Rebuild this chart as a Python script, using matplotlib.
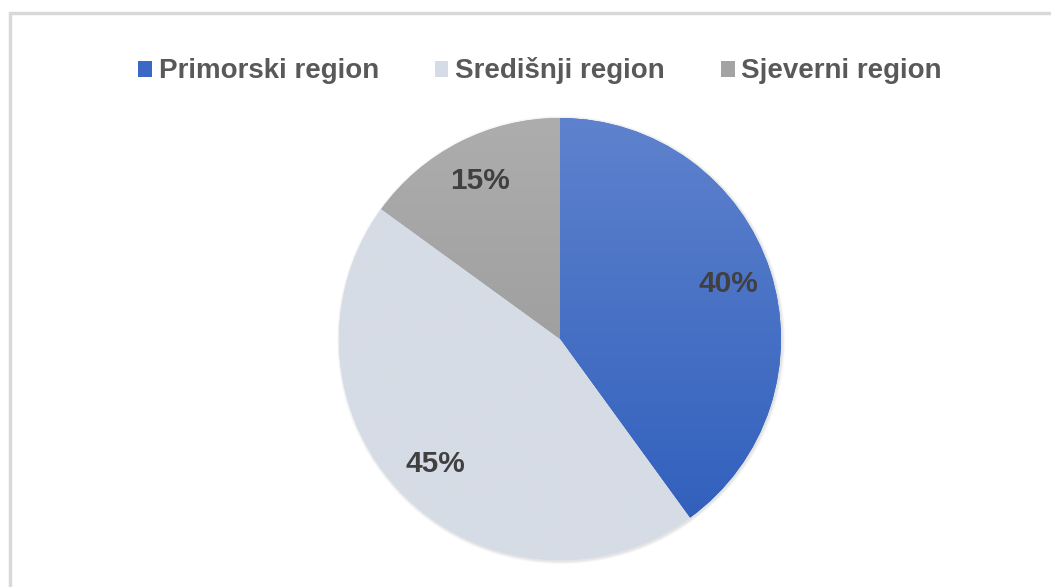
import numpy as np
import matplotlib
matplotlib.use("Agg")
import matplotlib.pyplot as plt
from matplotlib.patches import Patch, Circle
from matplotlib.colors import LinearSegmentedColormap

categories = ["Primorski region", "Središnji region", "Sjeverni region"]
values = [40, 45, 15]
labels = ["40%", "45%", "15%"]

top_colors = ["#5e82cd", "#d6dce5", "#adadad"]
bottom_colors = ["#2d5dbb", "#d6dce5", "#939393"]
legend_colors = ["#3a68c4", "#d6dce5", "#a3a3a3"]

W, H = 1051, 587
fig = plt.figure(figsize=(W / 100, H / 100), dpi=100)
ax = fig.add_axes([0, 0, 1, 1])
ax.set_xlim(0, W)
ax.set_ylim(0, H)
ax.set_aspect("equal")
ax.axis("off")

cx, cy, r = 560, H - 339, 221

# soft shadow
for k, a in [(3, 0.05), (2, 0.07), (1, 0.09)]:
    ax.add_patch(Circle((cx + 1, cy - 1), r + k, color="#808080", alpha=a, lw=0, zorder=1))

wedges, _ = ax.pie(values, startangle=90, counterclock=False, center=(cx, cy), radius=r,
                   colors=legend_colors, wedgeprops=dict(linewidth=0), frame=True)
ax.set_xlim(0, W)
ax.set_ylim(0, H)
ax.axis("off")

for w, c0, c1 in zip(wedges, top_colors, bottom_colors):
    w.set_zorder(2)
    cmap = LinearSegmentedColormap.from_list("g", [c1, c0])
    grad = np.linspace(0, 1, 256).reshape(-1, 1)
    im = ax.imshow(grad, cmap=cmap, extent=(cx - r, cx + r, cy - r, cy + r),
                   origin="lower", aspect="auto", zorder=3)
    im.set_clip_path(w)

for w, lab in zip(wedges, labels):
    ang = np.deg2rad((w.theta1 + w.theta2) / 2)
    d = 0.8 * r
    x = cx + d * np.cos(ang)
    y = cy + d * np.sin(ang)
    ax.text(x, y, lab, ha="center", va="center", fontsize=21.5, fontweight="bold",
            color="#404040", family="Liberation Sans", zorder=5)

# chart frame (top and left edges visible)
ax.plot([10, 10, W], [0, H - 12.5, H - 12.5], color="#d9d9d9", lw=2.5, zorder=0,
        solid_joinstyle="miter")

handles = [Patch(facecolor=c, edgecolor="none") for c in legend_colors]
leg = fig.legend(handles, categories, loc="center", bbox_to_anchor=(540 / W, 1 - 71 / H),
                 ncol=3, frameon=False, handlelength=0.5, handleheight=0.5,
                 handletextpad=0.25, columnspacing=2.0,
                 prop=dict(family="Liberation Sans", weight="bold", size=20))
for t in leg.get_texts():
    t.set_color("#595959")

fig.savefig("out.png", dpi=100)
